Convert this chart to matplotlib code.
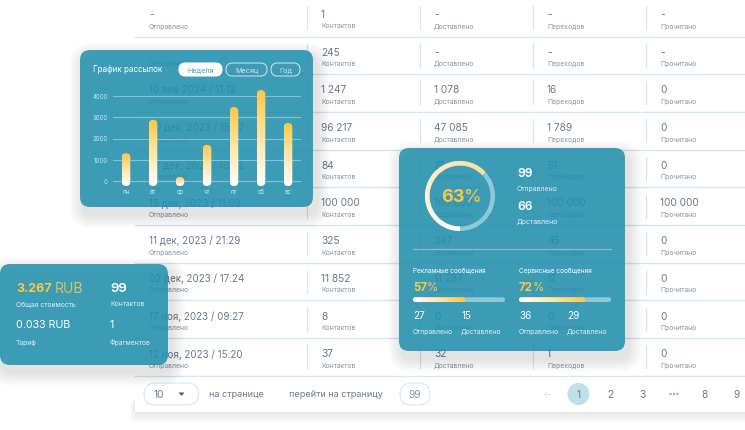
import numpy as np
import matplotlib
matplotlib.use("Agg")
import matplotlib.pyplot as plt
from matplotlib.patches import FancyBboxPatch, Wedge, Circle, Polygon, Rectangle
from matplotlib.colors import LinearSegmentedColormap

plt.rcParams['font.family'] = ['Inter', 'DejaVu Sans']

W, H = 745, 431

# ---------- data ----------
sent_dates = ["-", "-", "10 янв 2024 / 11:12", "30 дек, 2023 / 15:07", "27 дек, 2023 / 18:32",
              "15 дек, 2023 / 11:09", "11 дек, 2023 / 21:29", "02 дек, 2023 / 17:24",
              "17 ноя, 2023 / 09:27", "12 ноя, 2023 / 15:20"]
contacts = ["1", "245", "1 247", "96 217", "84", "100 000", "325", "11 852", "8", "37"]
delivered = ["-", "-", "1 078", "47 085", "81", "100 000", "247", "11 287", "0", "32"]
clicks = ["-", "-", "16", "1 789", "51", "100 000", "45", "12", "0", "1"]
read = ["-", "-", "0", "0", "0", "100 000", "0", "0", "0", "0"]
column_labels = ["Отправлено", "Контактов", "Доставлено", "Переходов", "Прочитано"]

weekdays = ["пн", "вт", "ср", "чт", "пт", "сб", "вс"]
weekly_values = [1310, 2880, 190, 1700, 3480, 4280, 2730]
y_ticks = [0, 1000, 2000, 3000, 4000]
periods = ["Неделя", "Месяц", "Год"]

total_pct = 63
ad_pct = 57
service_pct = 72
pages = ["1", "2", "3", "8", "9"]

TEAL = "#2592B0"
YEL = "#FFC643"
GREY = "#6B7888"
GREYL = "#8693A2"
LINE = "#D4E7EE"
CARD_ALPHA = 0.88

fig = plt.figure(figsize=(W / 100, H / 100), dpi=100, facecolor="white")
ax = fig.add_axes([0, 0, 1, 1])
ax.set_xlim(0, W)
ax.set_ylim(H, 0)
ax.axis("off")

grad = LinearSegmentedColormap.from_list("g", ["#FFFFFF", "#FFE6A8", YEL])


def T(x, y, s, size=6, color="white", ha="left", va="center", z=5, **kw):
    return ax.text(x, y, s, fontsize=size, color=color, ha=ha, va=va, zorder=z, **kw)


def rbox(x0, y0, x1, y1, r, **kw):
    p = FancyBboxPatch((x0 + r, y0 + r), x1 - x0 - 2 * r, y1 - y0 - 2 * r,
                       boxstyle=f"round,pad={r},rounding_size={r}", **kw)
    ax.add_patch(p)
    return p


def shadow(x0, y0, x1, y1, r, z, dy=7, spread=14, strength=0.016):
    for k in range(spread, 0, -2):
        rbox(x0 - k + 3, y0 - k + dy, x1 + k + 3, y1 + k + dy, r + k, fc="black", ec="none",
             alpha=strength, zorder=z)


def card(x0, y0, x1, y1, z):
    shadow(x0, y0, x1, y1, 10, z)
    rbox(x0, y0, x1, y1, 10, fc=TEAL, ec="none", alpha=CARD_ALPHA, zorder=z + 0.1)


def gradient_bar(x0, y0, x1, y1, r, horizontal, z):
    arr = np.linspace(0, 1, 200)
    arr = arr.reshape(1, -1) if horizontal else arr.reshape(-1, 1)
    im = ax.imshow(arr, extent=(x0, x1, y0, y1), origin="lower" if not horizontal else "upper",
                   cmap=grad, vmin=0, vmax=1, aspect="auto", zorder=z)
    clip = rbox(x0, y1 if y1 < y0 else y0, x1, y0 if y1 < y0 else y1, r, fc="none", ec="none", zorder=z)
    im.set_clip_path(clip)


# ---------- table ----------
for k in range(12, 0, -1):
    rbox(135 - k * 0.4, 400, W + 30, 413 + k, 6, fc="black", ec="none", alpha=0.006, zorder=0.5)
ax.add_patch(Rectangle((135, 0), W, 413, fc="white", ec="none", zorder=0.6))

row_top = 0.0
row_h = 37.7
col_x = [149, 321, 434, 547, 660]
div_x = [307, 420, 533, 645.5]
columns = [sent_dates, contacts, delivered, clicks, read]
for r in range(10):
    top = row_top + r * row_h
    sep = top + 37.5
    ax.plot([135, W], [sep, sep], color=LINE, lw=1.0, zorder=1)
    for dx in div_x:
        ax.plot([dx, dx], [top + 7, top + 30], color=LINE, lw=0.9, zorder=1)
    for i, (cx, col, lab) in enumerate(zip(col_x, columns, column_labels)):
        T(cx, top + 15, col[r], size=7.0 if i == 0 else 7.3, color=GREY, z=2)
        T(cx, top + 26.5, lab, size=4.9, color=GREYL, z=2)

# ---------- pagination ----------
rbox(144, 384, 198.5, 406, 11, fc="white", ec=LINE, lw=0.8, zorder=2)
T(154, 395, "10", size=7.3, color=GREY, z=3)
ax.add_patch(Polygon([[178.5, 393.5], [184.5, 393.5], [181.5, 396.8]], fc="#4A5568", ec="none", zorder=3))
T(209, 395, "на странице", size=6.5, color=GREY, z=3)
T(289, 395, "перейти на страницу", size=6.5, color=GREY, z=3)
rbox(400, 384, 430, 406, 11, fc="white", ec=LINE, lw=0.8, zorder=2)
T(415, 395, "99", size=7.3, color=GREYL, ha="center", z=3)
T(547, 395, "←", size=7, color="#CFE6EC", ha="center", z=3)
ax.add_patch(Circle((578.5, 395), 11, fc="#C0E0E9", ec="none", zorder=2))
for x, p in zip([578.5, 610, 642, 705, 737], pages):
    T(x, 395, p, size=7.3, color=GREY, ha="center", z=3)
for x in [670.5, 674, 677.5]:
    ax.add_patch(Circle((x, 395), 1.1, fc="#6DB4C8", ec="none", zorder=3))

# ---------- chart card ----------
card(80, 51, 313, 208, 10)
T(93, 70, "График рассылок", size=5.8, z=12)
pills = [(179, 222), (226, 267), (271, 300)]
for i, ((a, b), name) in enumerate(zip(pills, periods)):
    active = i == 0
    rbox(a, 64, b, 77, 6.5, fc="white" if active else "none", ec="#BFE0E8" if not active else "white",
         lw=0.8, zorder=12)
    T((a + b) / 2, 70.5, name, size=5.2, color="#3F9FBA" if active else "#CFE7EE", ha="center", z=13)

y0_px, y4000_px = 182.0, 97.0
x_first, x_step = 126.0, 27.0


def val_y(v):
    return y0_px + (y4000_px - y0_px) * v / 4000


for v, lab in zip(y_ticks, y_ticks):
    y = val_y(v)
    ax.plot([113, 300], [y, y], color="#84C2D3", lw=0.8, zorder=12)
    T(108, y, str(lab), size=4.4, color="#CFE7EE", ha="right", z=13)
for i, (d, v) in enumerate(zip(weekdays, weekly_values)):
    x = x_first + i * x_step
    gradient_bar(x - 4.3, 187, x + 4.3, val_y(v), 4.3, False, 13)
    T(x, 192.5, d, size=4.4, color="#CFE7EE", ha="center", z=13)

# ---------- gauge card ----------
card(399, 149, 625, 352, 20)
cx, cy, R = 460, 197, 35
ax.add_patch(Wedge((cx, cy), R, 0, 360, width=4.5, fc="#8FC8D6", ec="none", zorder=22))
n = 90
sweep = 360 * total_pct / 100
ring = LinearSegmentedColormap.from_list("r", ["#FFFFFF", "#FFDF94"])
for i in range(n):
    t1 = 90 + sweep * i / n
    t2 = 90 + sweep * (i + 1.3) / n
    ax.add_patch(Wedge((cx, cy), R, t1, min(t2, 90 + sweep), width=4.5,
                       fc=ring(i / n), ec="none", zorder=22.5))
T(441.5, 198, f"{total_pct}", size=13, color=YEL, weight="bold", z=23)
T(464, 198, "%", size=13, color=YEL, z=23)
T(517, 174.5, "99", size=8.7, weight="semibold", z=23)
T(517, 189.5, "Отправлено", size=5.0, color="#DCEFF4", z=23)
T(517, 207, "66", size=8.7, weight="semibold", z=23)
T(517, 222, "Доставлено", size=5.0, color="#DCEFF4", z=23)
ax.plot([413, 611], [249.5, 249.5], color="#7FBFD0", lw=0.9, zorder=23)

groups = [(413, 505, "Рекламные сообщения", ad_pct, "27", "15"),
          (519, 611, "Сервисные сообщения", service_pct, "36", "29")]
for x0, x1, title, pct, a, b in groups:
    T(x0, 270.5, title, size=4.6, z=23)
    T(x0, 288, f"{pct}", size=8.3, color=YEL, weight="bold", z=23)
    T(x0 + 13.5, 288, "%", size=8.3, color=YEL, z=23)
    rbox(x0, 298.3, x1, 303, 2.3, fc="#8FC8D6", ec="none", zorder=23)
    gradient_bar(x0, 298.3, x0 + (x1 - x0) * pct / 100, 303, 2.3, True, 24)
    T(x0, 316.5, a, size=7.2, z=24)
    T(x0, 332, "Отправлено", size=4.9, color="#DCEFF4", z=24)
    T(x0 + 48, 316.5, b, size=7.2, z=24)
    T(x0 + 48, 332, "Доставлено", size=4.9, color="#DCEFF4", z=24)

# ---------- cost card ----------
card(0, 265, 168, 366, 30)
T(16, 289, "3.267", size=9, color=YEL, weight="bold", z=33)
T(54.7, 289, "RUB", size=10, color="#E2C35A", z=33)
T(16, 304.5, "Общая стоимость", size=4.9, color="#DCEFF4", z=33)
T(16, 325.5, "0.033 RUB", size=7.7, z=33)
T(16, 343, "Тариф", size=4.9, color="#DCEFF4", z=33)
T(110, 289, "99", size=9.5, weight="semibold", z=33)
T(110, 304.5, "Контактов", size=4.9, color="#DCEFF4", z=33)
T(110, 325.5, "1", size=7.7, z=33)
T(110, 343, "Фрагментов", size=4.9, color="#DCEFF4", z=33)

ax.set_xlim(0, W)
ax.set_ylim(H, 0)
fig.savefig("out.png", dpi=100)
